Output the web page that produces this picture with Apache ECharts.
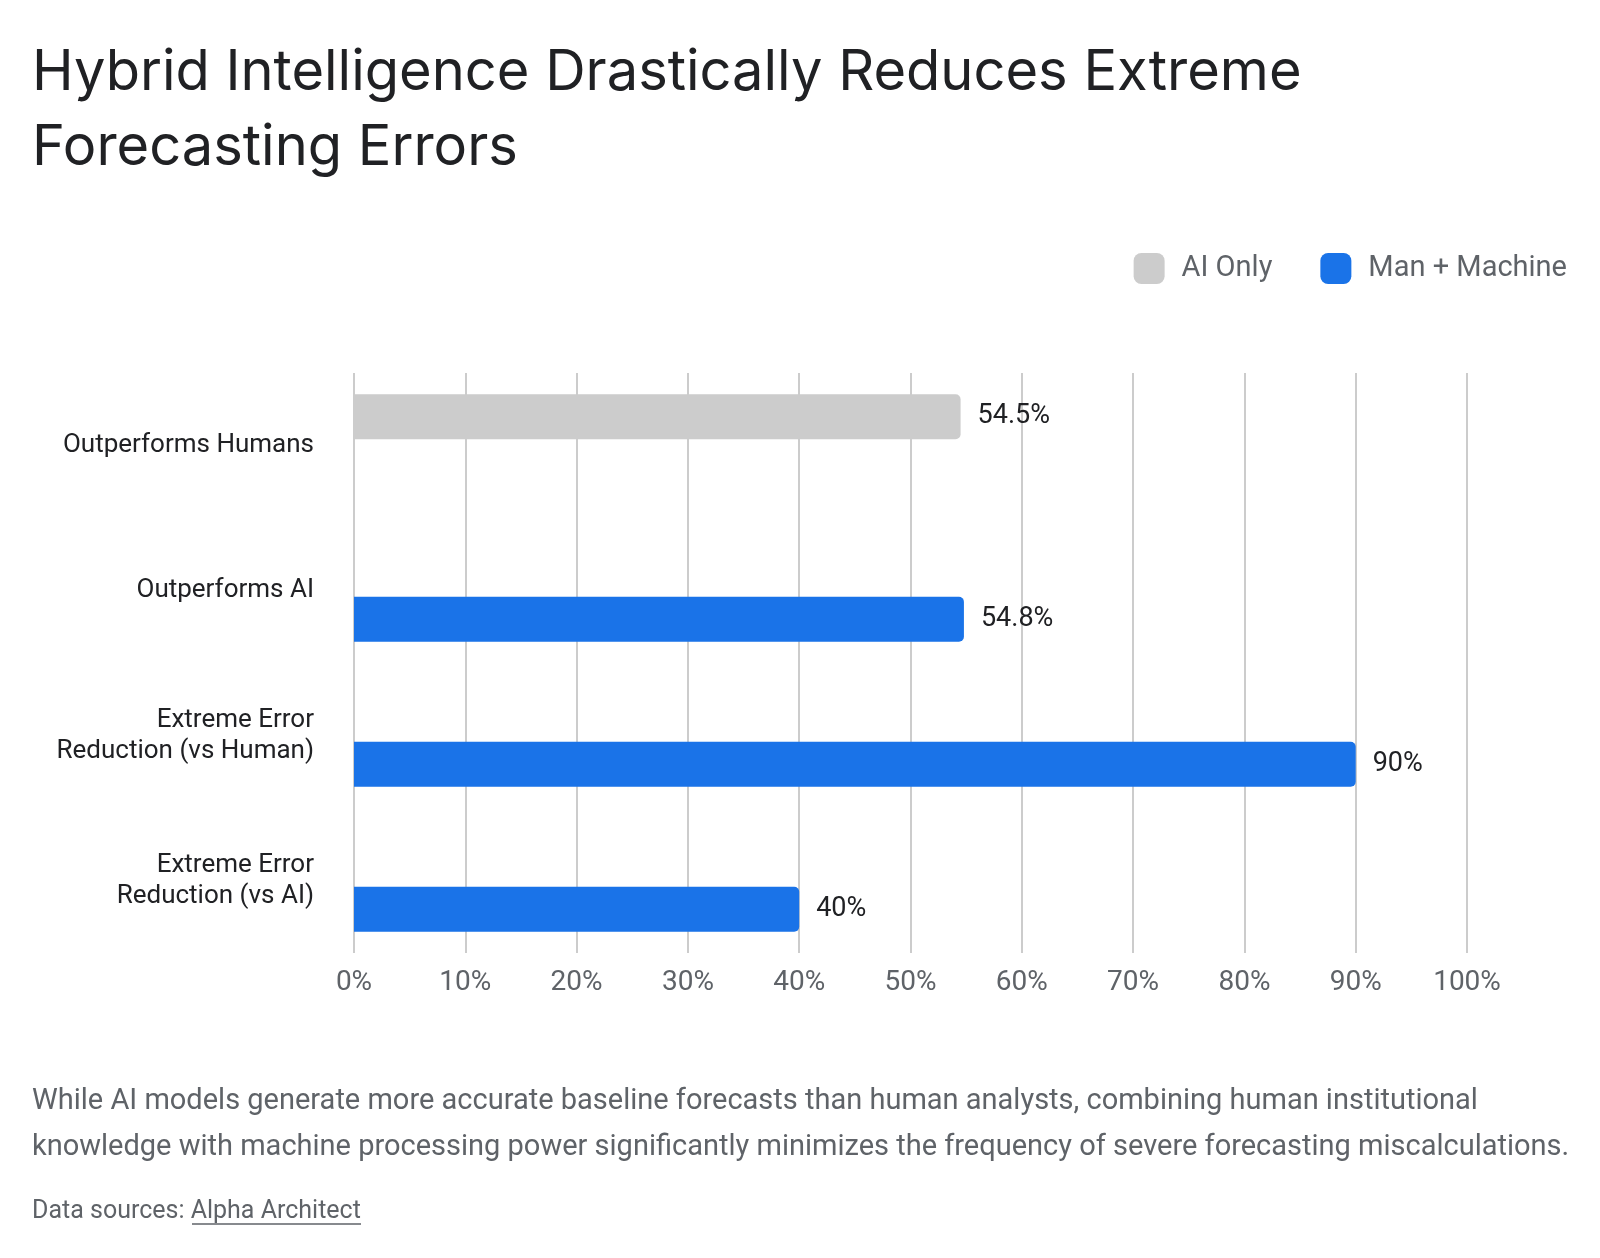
<!DOCTYPE html>
<html>
<head>
<meta charset="utf-8">
<script src="https://cdn.jsdelivr.net/npm/echarts@6/dist/echarts.min.js"></script>
<style>
  html, body { margin: 0; padding: 0; background: #fff; }
  #chart { width: 1600px; height: 1258px; }
</style>
</head>
<body>
<div id="chart"></div>
<script>
// categories and values
const categories = [
  'Outperforms Humans',
  'Outperforms AI',
  'Extreme Error\nReduction (vs Human)',
  'Extreme Error\nReduction (vs AI)'
];
const aiOnly = [54.5, null, null, null];
const manMachine = [null, 54.8, 90, 40];

const FONT = 'Roboto, "Noto Sans", sans-serif';
const TITLE_FONT = 'Inter, Roboto, sans-serif';

let myChart = echarts.init(document.getElementById('chart'));
let option = {
  backgroundColor: '#fff',
  textStyle: { fontFamily: FONT },
  title: {
    text: 'Hybrid Intelligence Drastically Reduces Extreme\nForecasting Errors',
    left: 27,
    top: 31,
    textStyle: {
      fontFamily: TITLE_FONT,
      fontSize: 56,
      fontWeight: 400,
      lineHeight: 75,
      color: '#202124'
    }
  },
  legend: {
    data: ['AI Only', 'Man + Machine'],
    right: 28,
    top: 248,
    icon: 'roundRect',
    itemWidth: 31,
    itemHeight: 31,
    itemGap: 48,
    textStyle: {
      fontFamily: FONT,
      fontSize: 29,
      color: '#5f6368',
      padding: [0, 0, 0, 12]
    }
  },
  grid: {
    left: 354,
    right: 133,
    top: 373,
    height: 580
  },
  xAxis: {
    type: 'value',
    min: 0,
    max: 100,
    interval: 10,
    axisLine: { show: false },
    axisTick: { show: false },
    axisLabel: {
      formatter: '{value}%',
      fontFamily: FONT,
      fontSize: 28,
      color: '#5f6368',
      margin: 16
    },
    splitLine: {
      show: true,
      lineStyle: { color: '#cccccc', width: 2 }
    }
  },
  yAxis: {
    type: 'category',
    inverse: true,
    data: categories,
    axisLine: { show: false },
    axisTick: { show: false },
    axisLabel: {
      fontFamily: FONT,
      fontSize: 26,
      lineHeight: 31,
      color: '#202124',
      margin: 40,
      align: 'right'
    }
  },
  series: [
    {
      name: 'AI Only',
      type: 'bar',
      data: aiOnly,
      barWidth: 45,
      barGap: '28%',
      itemStyle: { color: '#cccccc', borderRadius: [0, 5, 5, 0] },
      label: {
        show: true,
        position: 'right',
        distance: 17,
        formatter: '{c}%',
        fontFamily: FONT,
        fontSize: 27,
        color: '#202124'
      }
    },
    {
      name: 'Man + Machine',
      type: 'bar',
      data: manMachine,
      barWidth: 45,
      itemStyle: { color: '#1a73e8', borderRadius: [0, 5, 5, 0] },
      label: {
        show: true,
        position: 'right',
        distance: 17,
        formatter: '{c}%',
        fontFamily: FONT,
        fontSize: 27,
        color: '#202124'
      }
    }
  ],
  graphic: [
    {
      type: 'text',
      left: 32,
      top: 1079,
      style: {
        text: 'While AI models generate more accurate baseline forecasts than human analysts, combining human institutional\nknowledge with machine processing power significantly minimizes the frequency of severe forecasting miscalculations.',
        font: '29px ' + FONT,
        lineHeight: 46,
        fill: '#5f6368'
      }
    },
    {
      type: 'text',
      left: 32,
      top: 1199,
      style: {
        text: 'Data sources: Alpha Architect',
        font: '25px ' + FONT,
        fill: '#5f6368'
      }
    },
    {
      type: 'line',
      shape: { x1: 192, y1: 1224, x2: 361, y2: 1224 },
      style: { stroke: '#5f6368', lineWidth: 1.5 }
    }
  ]
};

option && myChart.setOption(option);
</script>
</body>
</html>
